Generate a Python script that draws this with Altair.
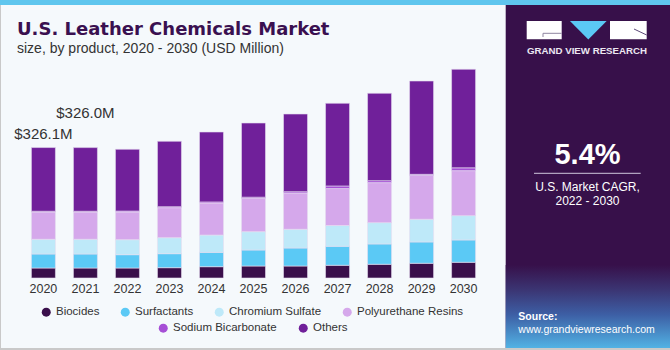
import altair as alt
import pandas as pd

# ---------------- data ----------------
years = ["2020", "2021", "2022", "2023", "2024", "2025", "2026", "2027", "2028", "2029", "2030"]
categories = ["Biocides", "Surfactants", "Chromium Sulfate", "Polyurethane Resins",
              "Sodium Bicarbonate", "Others"]
biocides = [25.0, 25.0, 25.0, 25.8, 28.3, 30.0, 30.0, 31.8, 34.3, 36.8, 39.3]
surfactants = [35.0, 35.0, 33.3, 35.0, 35.8, 40.0, 45.0, 47.5, 50.8, 53.3, 55.8]
chromium_sulfate = [36.8, 36.8, 37.5, 40.0, 43.3, 45.8, 46.8, 51.8, 53.3, 56.8, 60.8]
polyurethane_resins = [68.3, 68.3, 69.3, 75.0, 80.0, 83.3, 90.8, 92.5, 100.0, 109.3, 112.5]
sodium_bicarbonate = [1.8, 1.8, 2.3, 2.5, 2.8, 3.0, 3.3, 6.5, 5.0, 3.0, 7.0]
others = [159.2, 159.1, 154.4, 163.5, 174.8, 185.4, 194.1, 206.7, 218.4, 233.3, 246.4]
labeled_years = ["2020", "2021"]

colors = ["#3a0f4b", "#5bc9f5", "#bee9f9", "#d5a8eb", "#a64fd6", "#70209a"]

series = [biocides, surfactants, chromium_sulfate, polyurethane_resins, sodium_bicarbonate, others]
rows = []
for ci, (cat, vals) in enumerate(zip(categories, series)):
    for y, v in zip(years, vals):
        rows.append({"year": y, "category": cat, "value": v, "idx": ci})
df = pd.DataFrame(rows)

totals = {y: sum(s[i] for s in series) for i, y in enumerate(years)}
lab_df = pd.DataFrame({"year": labeled_years,
                       "total": [totals[y] for y in labeled_years],
                       "label": ["$%.1fM" % totals[y] for y in labeled_years]})

FONT = "Liberation Sans"
TXT = "#333333"
W, H = 461, 220
PAD_L, PAD_T = 23, 58

one = alt.Data(values=[{"k": 0}])


def rect(x, x2, y, y2, **kw):
    return alt.Chart(one).mark_rect(**kw).encode(
        x=alt.value(x), x2=alt.value(x2), y=alt.value(y), y2=alt.value(y2))


def rule(x, x2, y, y2, **kw):
    return alt.Chart(one).mark_rule(**kw).encode(
        x=alt.value(x), x2=alt.value(x2), y=alt.value(y), y2=alt.value(y2))


def txt(text, x, y, align="left", **kw):
    return alt.Chart(alt.Data(values=[{"t": text}])).mark_text(
        align=align, baseline="alphabetic", **kw).encode(
        x=alt.value(x), y=alt.value(y), text="t:N")


def legend(vals, lx, ly):
    kw = dict(orient="none", legendX=lx, legendY=ly, direction="horizontal",
              title=None, symbolType="circle", symbolSize=81, symbolStrokeWidth=0,
              symbolOpacity=1, labelFont=FONT, labelFontSize=11.5, labelColor=TXT,
              labelOffset=4, columnPadding=20, padding=0, labelLimit=0)
    if vals is not None:
        kw["values"] = vals
    return alt.Legend(**kw)


# ---------------- decorations ----------------
panel = rect(482.7, 647, -53, 290, color="#37104a")
panel_grad = rect(482.7, 647, 207, 290, fill=alt.Gradient(
    gradient="linear", x1=0, x2=0, y1=0, y2=1,
    stops=[alt.GradientStop(color="#37104a", offset=0),
           alt.GradientStop(color="#3b3573", offset=0.3),
           alt.GradientStop(color="#3d5fa5", offset=0.6),
           alt.GradientStop(color="#52b2e4", offset=1)]))
stripe = rect(-23, 647, -58, -53, color="#5fc6ee")
border_b = rect(-23, 647, 290, 292, color="#c9c9c9")
border_l = rect(-23, -22, -53, 292, color="#c9c9c9")

logo_l = rect(503.7, 538.7, -37, -18.7, color="#ffffff")
logo_r = rect(587, 623.7, -37, -18.7, color="#ffffff")
logo_g1 = rule(520, 538.7, -24.7, -24.7, color="#8f86a0", strokeWidth=1)
logo_g2 = rule(520, 520, -24.7, -21, color="#8f86a0", strokeWidth=1)
logo_r1 = rule(611, 623.7, -29, -23, color="#5d4a78", strokeWidth=1)
logo_tri = alt.Chart(one).mark_point(
    shape="M-1,-0.5L1,-0.5L0,0.5Z", filled=True, color="#5bc8f5", opacity=1, size=1347,
    strokeWidth=0).encode(x=alt.value(565.3), y=alt.value(-27.8))
logo_txt = txt("GRAND VIEW RESEARCH", 564, -4, align="center", font=FONT,
               fontSize=9.7, fontWeight="bold", color="#ece8f2")

cagr = txt("5.4%", 564.5, 106.3, align="center", font=FONT, fontSize=29,
           fontWeight="bold", color="#ffffff")
cagr_rule = rule(511, 617.7, 115.3, 115.3, color="#cfc7dc", strokeWidth=1)
cagr_t1 = txt("U.S. Market CAGR,", 564.5, 133, align="center", font=FONT,
              fontSize=12, color="#ffffff")
cagr_t2 = txt("2022 - 2030", 564.5, 146.5, align="center", font=FONT,
              fontSize=12, color="#ffffff")
src1 = txt("Source:", 495.3, 262, font=FONT, fontSize=10.5, fontWeight="bold",
           color="#ffffff")
src2 = txt("www.grandviewresearch.com", 495.3, 275, font=FONT, fontSize=10.5,
           color="#ffffff")

title = txt("U.S. Leather Chemicals Market", -6, -23, font="DejaVu Sans",
            fontSize=18, fontWeight="bold", color="#3a1050")
subtitle = txt("size, by product, 2020 - 2030 (USD Million)", -6, -5, font=FONT,
               fontSize=14, color=TXT)

# ---------------- bars ----------------
x_enc = alt.X("year:N", sort=years,
              scale=alt.Scale(paddingInner=0.4286, paddingOuter=0.2),
              axis=alt.Axis(title=None, labelAngle=0, domain=False, ticks=False,
                            grid=False, labelPadding=4, labelFont=FONT,
                            labelFontSize=12.5, labelColor=TXT))
y_scale = alt.Scale(domain=[0, 550])

bars = alt.Chart(df).mark_bar(stroke="#e6def0", strokeWidth=0.6).encode(
    x=x_enc,
    y=alt.Y("value:Q", stack="zero", scale=y_scale, axis=None),
    color=alt.Color("category:N",
                    scale=alt.Scale(domain=categories, range=colors),
                    legend=legend(categories[:4], 17.5, 248)),
    order=alt.Order("idx:Q", sort="ascending"),
)

leg2_df = pd.DataFrame({"category": categories[4:]})
legend2 = alt.Chart(leg2_df).mark_point(filled=True, opacity=0).encode(
    x=alt.value(0), y=alt.value(0),
    color=alt.Color("category:N",
                    scale=alt.Scale(domain=categories[4:], range=colors[4:]),
                    legend=legend(None, 134.5, 264)),
)

lab1 = alt.Chart(lab_df[lab_df.year == labeled_years[0]]).mark_text(
    font=FONT, fontSize=15, color=TXT, baseline="alphabetic", dy=-9).encode(
    x=alt.X("year:N", sort=years), y=alt.Y("total:Q", scale=y_scale), text="label:N")
lab2 = alt.Chart(lab_df[lab_df.year == labeled_years[1]]).mark_text(
    font=FONT, fontSize=15, color=TXT, baseline="alphabetic", dy=-29.5).encode(
    x=alt.X("year:N", sort=years), y=alt.Y("total:Q", scale=y_scale), text="label:N")

chart = alt.layer(
    panel, panel_grad, stripe, border_b, border_l,
    logo_l, logo_r, logo_g1, logo_g2, logo_r1, logo_tri, logo_txt,
    cagr, cagr_rule, cagr_t1, cagr_t2, src1, src2,
    title, subtitle,
    bars, legend2, lab1, lab2,
).resolve_scale(color="independent").properties(
    width=W, height=H, autosize="none",
    padding={"left": PAD_L, "top": PAD_T, "right": 670 - PAD_L - W,
             "bottom": 350 - PAD_T - H},
    background="#f5f9fc",
).configure_view(stroke=None)

chart.save("out.html", embed_options={"renderer": "svg", "actions": False})
